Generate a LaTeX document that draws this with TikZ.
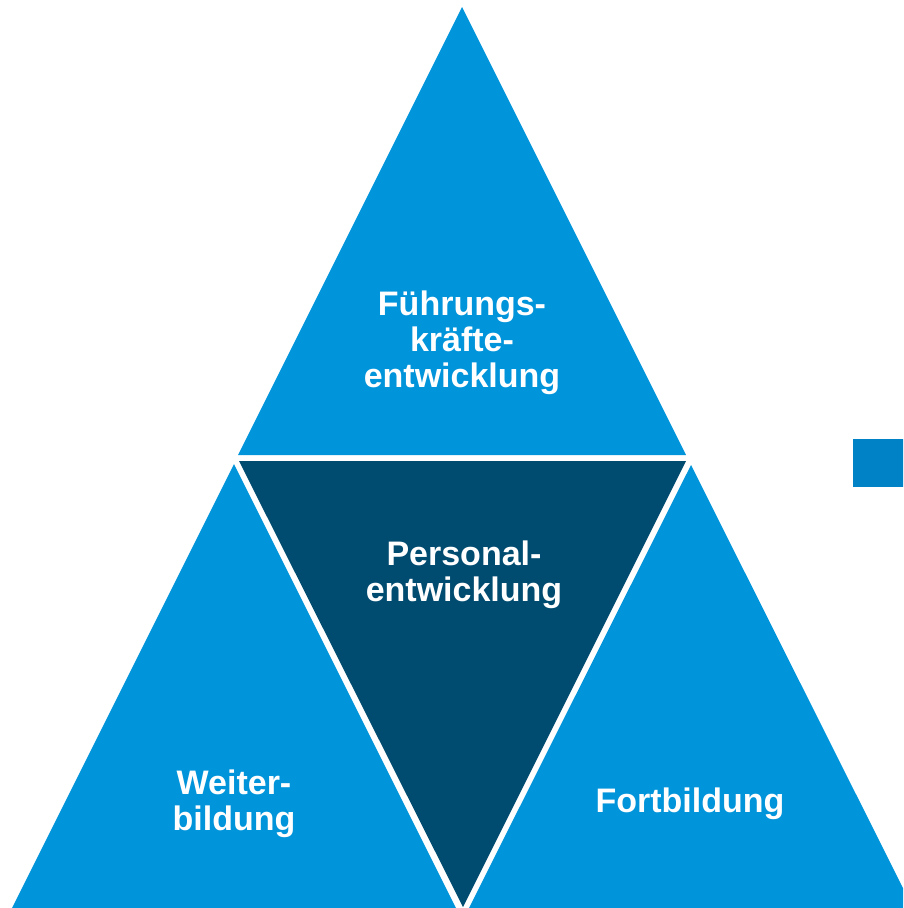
\documentclass[tikz,border=0pt]{standalone}
\usepackage{fontspec}
\setmainfont{Liberation Sans}
\definecolor{lightblue}{RGB}{0,148,219}
\definecolor{darkblue}{RGB}{0,75,112}
\definecolor{squareblue}{RGB}{0,130,198}
\begin{document}
\begin{tikzpicture}[x=1pt,y=-1pt,
  lbl/.style={text=white,font=\bfseries\fontsize{34}{36}\selectfont,align=center,inner sep=0pt}]
\useasboundingbox (0,0) rectangle (903,908);
\clip (0,0) rectangle (903,908);
\fill[lightblue] (462,7) -- (238,455) -- (686,455) -- cycle;
\fill[darkblue] (239,461) -- (686,461) -- (463,907) -- cycle;
\fill[lightblue] (234,464) -- (12,908) -- (456,908) -- cycle;
\fill[lightblue] (691,465) -- (469,908) -- (913,908) -- cycle;
\fill[squareblue] (853,439) rectangle (910,487);
\node[lbl] (fk) at (462,343) {Führungs-\\kräfte-\\entwicklung};
\node[lbl] (pe) at (464,575) {Personal-\\entwicklung};
\node[lbl] (wb) at (234,804) {Weiter-\\bildung};
\node[lbl] (fb) at (690,804) {Fortbildung};
\end{tikzpicture}
\end{document}
